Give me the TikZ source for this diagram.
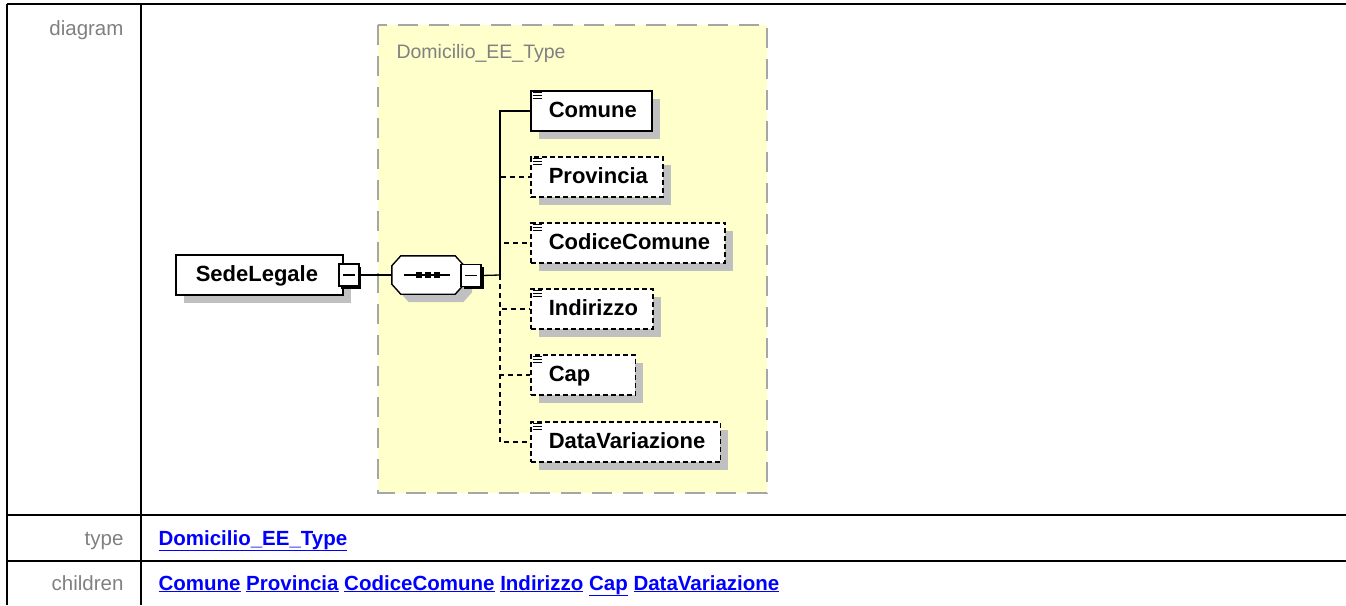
\documentclass[tikz,border=0pt]{standalone}
\usepackage{fontspec}
\setmainfont{Liberation Sans}
\usetikzlibrary{shadows,positioning}

\definecolor{typefill}{HTML}{FFFFCC}
\definecolor{typeline}{HTML}{A6A6A6}
\definecolor{labelgray}{HTML}{808080}
\definecolor{linkblue}{HTML}{0000FF}
\definecolor{shadowgray}{HTML}{C0C0C0}

% left / right padding of an element name
\newcommand\elemname[2][15pt]{\hspace*{18pt}#2\hspace*{#1}}

\begin{document}
\begin{tikzpicture}[x=1pt,y=-1pt,
  conn/.style={line width=1.3pt},
  optconn/.style={conn,dash pattern=on 5pt off 4pt},
  grayshadow/.style={drop shadow={shadow xshift=8pt,shadow yshift=-8pt,fill=shadowgray,opacity=1}},
  elem/.style={draw,line width=1.6pt,fill=white,anchor=west,
    minimum height=40pt,inner xsep=0pt,inner ysep=0pt,
    text height=15pt,text depth=3pt,
    font=\bfseries\fontsize{22}{26}\selectfont,grayshadow},
  optelem/.style={elem,dash pattern=on 5pt off 3pt},
  minusbox/.style={draw,line width=1.5pt,fill=white,minimum width=20pt,minimum height=22pt,inner sep=0pt,
    drop shadow={shadow xshift=2.5pt,shadow yshift=-2.5pt,fill=black,opacity=1},
    path picture={\draw[line width=1.1pt] ([xshift=-6pt]path picture bounding box.center)
      -- ([xshift=6pt]path picture bounding box.center);}},
  rowlabel/.style={anchor=base east,text=labelgray,font=\fontsize{20.5}{24}\selectfont},
  link/.style={anchor=base west,text=linkblue,font=\bfseries\fontsize{20.5}{24}\selectfont}]
\useasboundingbox (0,0) rectangle (1346,605);

% table
\draw[line width=2pt] (7,4) -- (1346,4);
\draw[line width=2pt] (7,515) -- (1346,515);
\draw[line width=2pt] (7,561) -- (1346,561);
\draw[line width=2pt] (7,4) -- (7,605);
\draw[line width=2pt] (141,4) -- (141,605);

\node[rowlabel] (diagramLabel) at (127,35) {diagram};
\node[rowlabel] (typeLabel) at (127,545) {type};
\node[rowlabel] (childrenLabel) at (127,590) {children};

\node[link] (typeLink) at (155,545) {\underline{Domicilio\_EE\_Type}};
\node[link] (childrenLink) at (155,590) {\underline{Comune} \underline{Provincia} \underline{CodiceComune}
  \underline{Indirizzo} \underline{Cap} \underline{DataVariazione}};

% complex type
\draw[typeline,fill=typefill,line width=2pt,dash pattern=on 20pt off 11pt] (378,25) rectangle (767,493);
\node[anchor=base west,text=labelgray,font=\fontsize{19.5}{23}\selectfont] (typeName) at (393,58) {Domicilio\_EE\_Type};

% element and sequence
\node[elem] (sedeLegale) at (175,275) {\hspace*{20pt}SedeLegale\hspace*{25pt}};
\node[minusbox] (sedeMinus) at ([xshift=5pt]sedeLegale.east) {};

\node[minimum width=72pt,minimum height=38pt,inner sep=0pt] (seq) at (428,275) {};
\draw[line width=1.4pt,fill=white,grayshadow]
  ([xshift=9pt]seq.north west) -- ([xshift=-9pt]seq.north east)
  -- ([yshift=-10pt]seq.north east) -- ([yshift=10pt]seq.south east)
  -- ([xshift=-9pt]seq.south east) -- ([xshift=9pt]seq.south west)
  -- ([yshift=10pt]seq.south west) -- ([yshift=-10pt]seq.north west) -- cycle;
\draw[line width=1.4pt] ([xshift=-24pt]seq.center) -- ([xshift=22pt]seq.center);
\foreach \dx in {-9,0,9}
  \fill ([xshift=\dx pt]seq.center) +(-3,-3) rectangle +(3,3);
\node[minusbox] (seqMinus) at (471,275.5) {};

\coordinate (fork) at (500,275);

% children
\node[elem] (comune) at (530,111) {\elemname{Comune}};
\node[optelem] (provincia) at (530,177) {\elemname{Provincia}};
\node[optelem] (codiceComune) at (530,243) {\elemname{CodiceComune}};
\node[optelem] (indirizzo) at (530,309) {\elemname{Indirizzo}};
\node[optelem] (cap) at (530,375) {\elemname[45pt]{Cap}};
\node[optelem] (dataVariazione) at (530,442) {\elemname{DataVariazione}};

\foreach \n in {comune,provincia,codiceComune,indirizzo,cap,dataVariazione}
  \foreach \k in {2.5,5.5,8.5}
    \draw[line width=1.2pt] ([xshift=2.5pt,yshift=-\k pt]\n.north west) -- ++(9.5,0);

% connectors
\draw[conn] (sedeMinus.east) -- (seq.west);
\draw[conn] (seqMinus.east) -- (fork);
\draw[conn] (fork) |- (comune.west);
\foreach \n in {provincia,codiceComune,indirizzo,cap,dataVariazione}
  \draw[optconn] (fork) |- (\n.west);
\end{tikzpicture}
\end{document}
